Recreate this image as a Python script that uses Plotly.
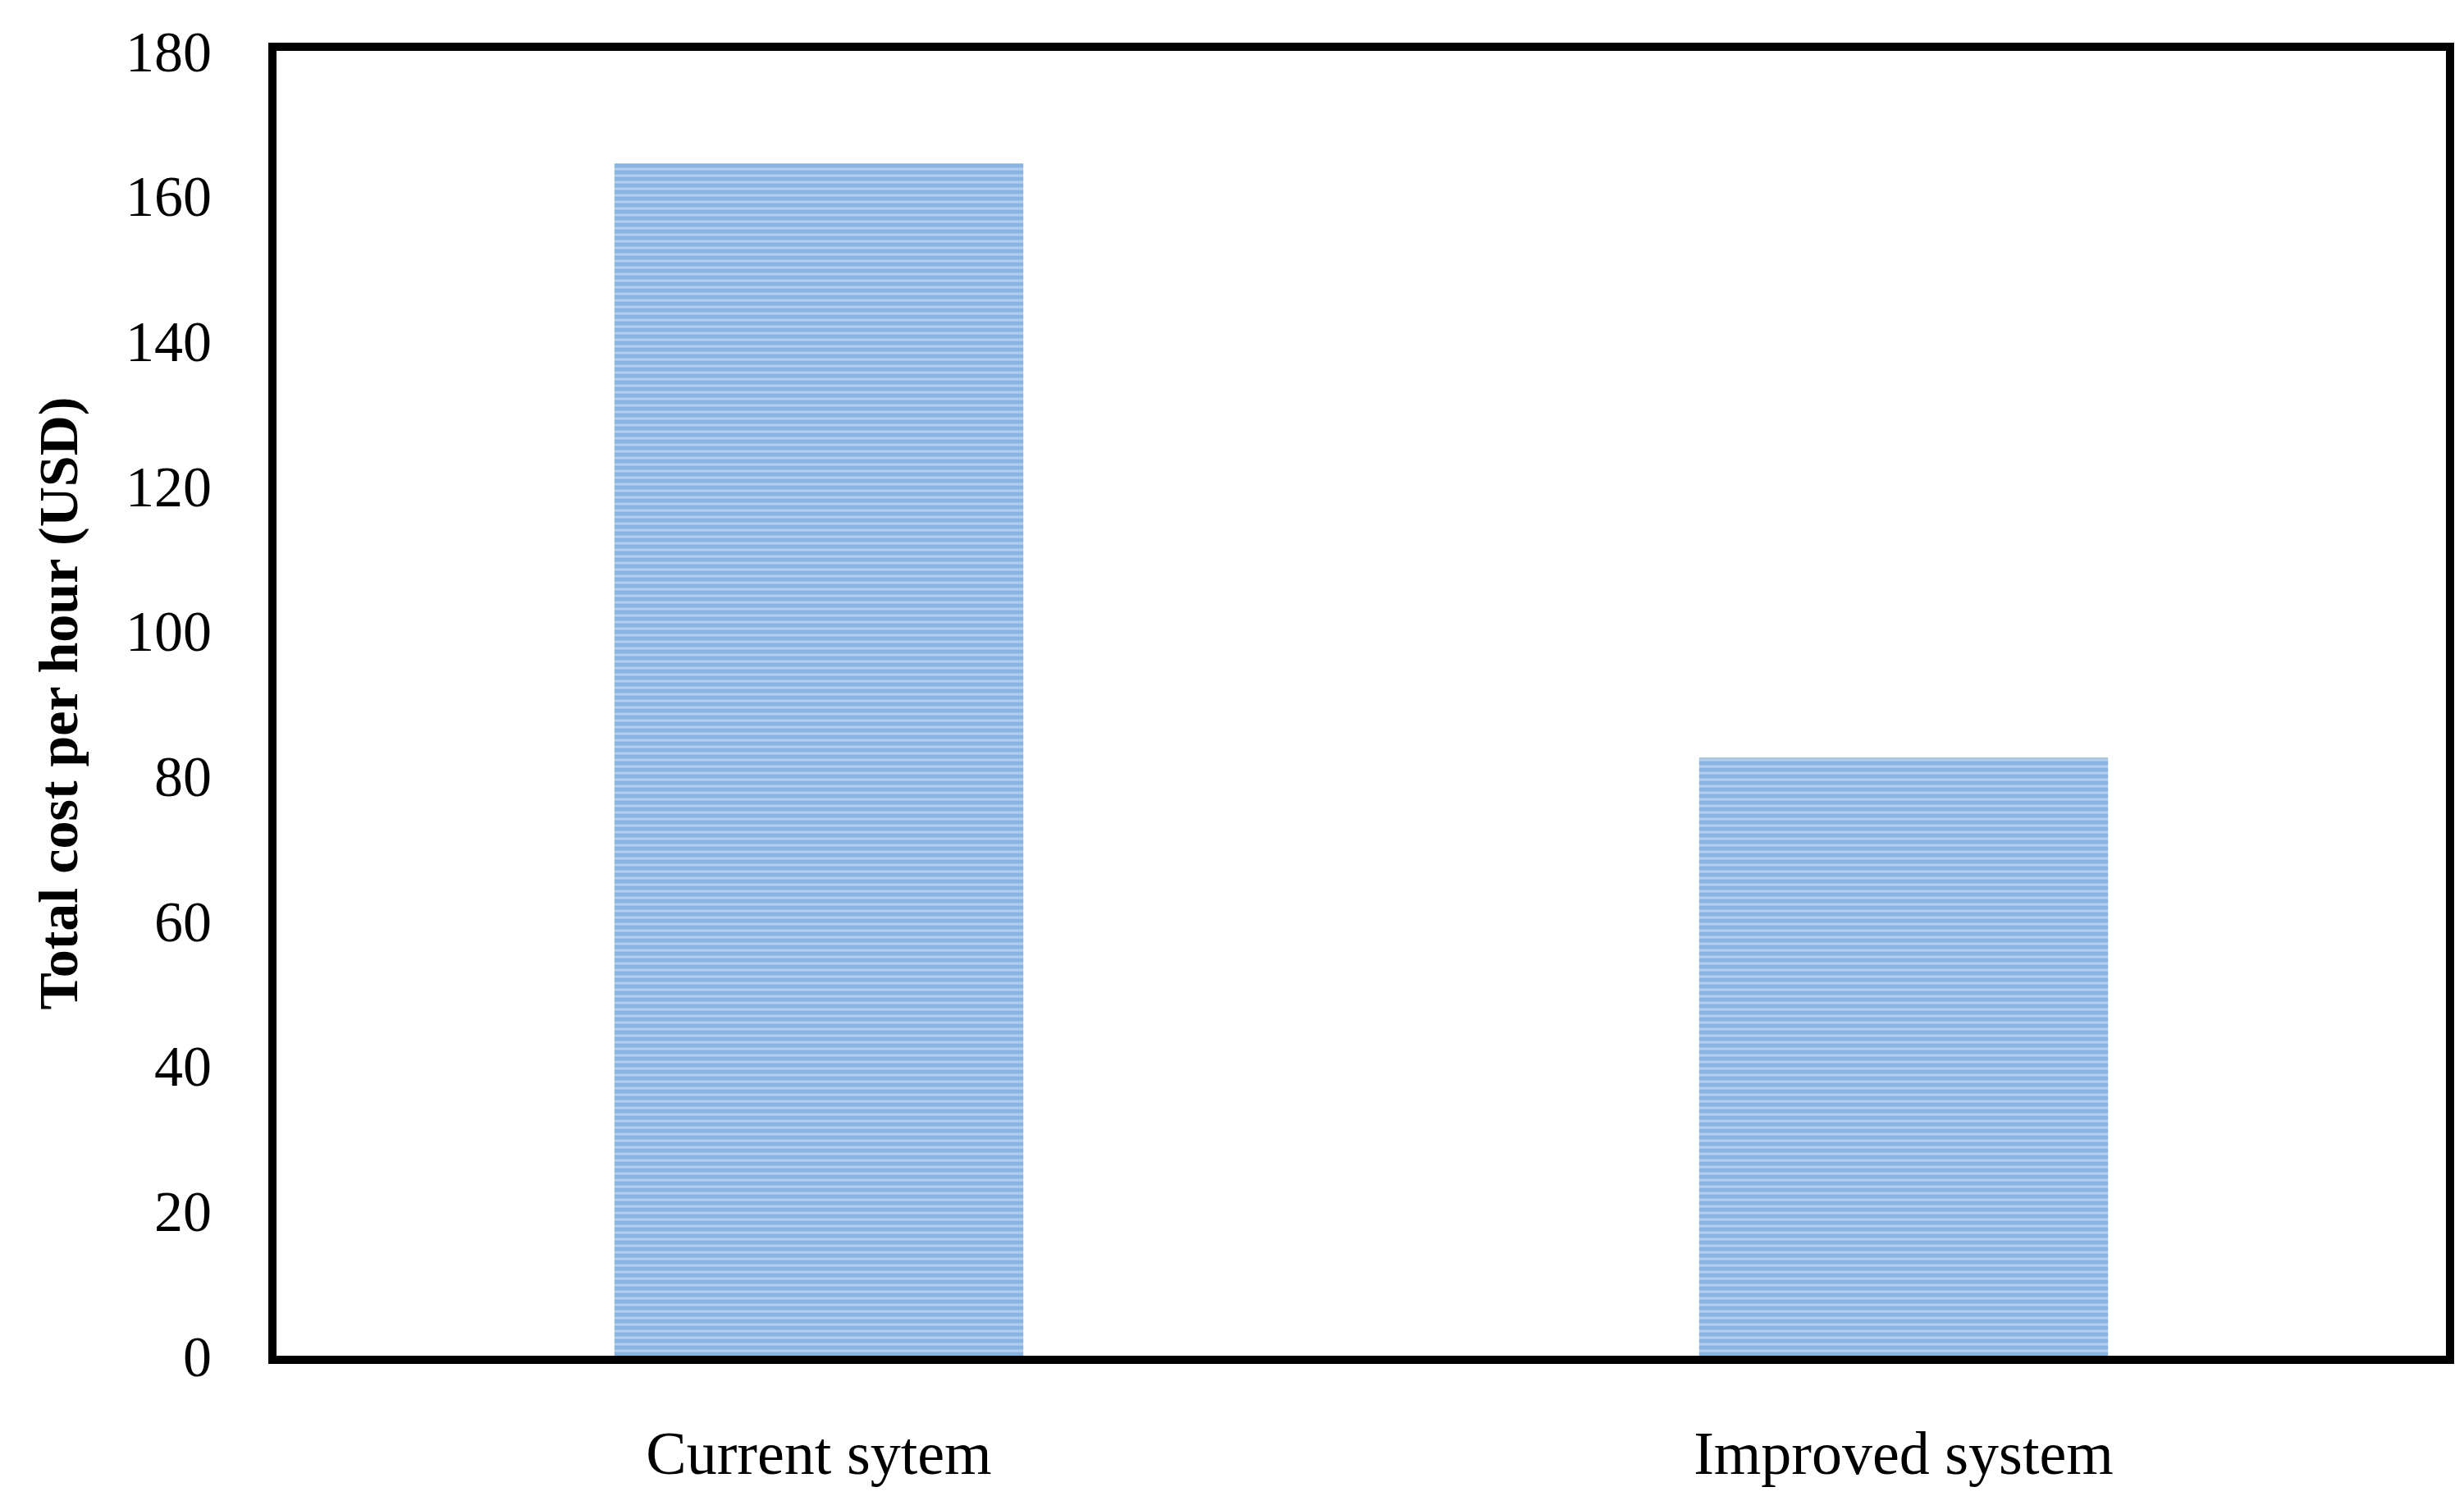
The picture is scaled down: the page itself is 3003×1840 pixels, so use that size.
import plotly.graph_objects as go

categories = ["Current sytem", "Improved system"]
values = [164.5, 82.5]
y_ticks = [0, 20, 40, 60, 80, 100, 120, 140, 160, 180]

fig = go.Figure(go.Bar(
    x=categories, y=values, width=0.377,
    marker=dict(color="#b3cdeb", line=dict(width=0),
                pattern=dict(shape="-", fgcolor="#5b9bd5", bgcolor="#b3cdeb",
                             size=8, solidity=0.6)),
))
font = "Liberation Serif, DejaVu Serif, serif"
fig.update_layout(
    width=3003, height=1840, plot_bgcolor="white", paper_bgcolor="white",
    margin=dict(l=329, r=30, t=54, b=196), showlegend=False,
    font=dict(family=font, size=70, color="black"),
)
fig.update_xaxes(showline=True, mirror=True, linewidth=10, linecolor="black",
                 ticks="", tickfont=dict(size=74), showgrid=False,
                 ticklabelstandoff=45)
fig.update_yaxes(range=[0, 180], tickvals=y_ticks, showline=True, mirror=True,
                 linewidth=10, linecolor="black", ticks="", showgrid=False,
                 zeroline=False, tickfont=dict(size=70), ticklabelstandoff=55,
                 title=dict(text="<b>Total cost per hour (USD)</b>", font=dict(size=68), standoff=40))
fig.write_html("out.html")
